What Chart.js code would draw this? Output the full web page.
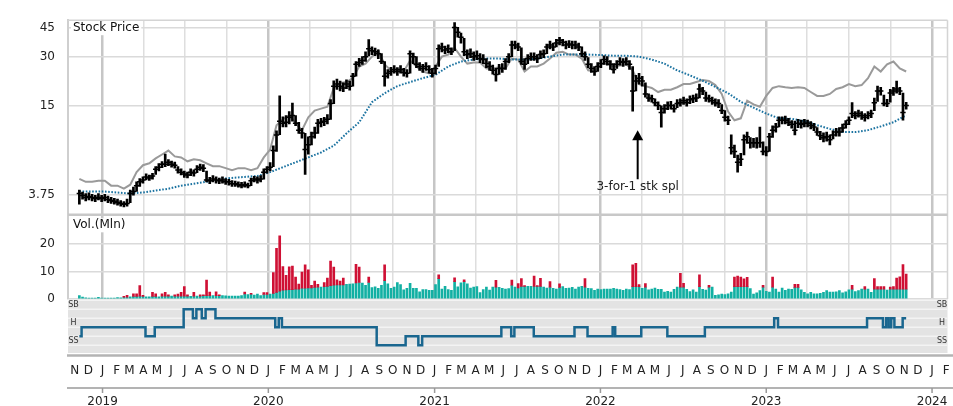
<!DOCTYPE html>
<html>
<head>
<meta charset="utf-8">
<script src="https://cdn.jsdelivr.net/npm/chart.js@4.4.0/dist/chart.umd.min.js"></script>
<style>
  html, body { margin: 0; padding: 0; background: #fff; }
  canvas { display: block; }
</style>
</head>
<body>
<canvas id="stockChart" width="953" height="406"></canvas>
<script>
// weekly bars, the first one is the week of 2018-11-11
const firstWeek = Date.UTC(2018, 10, 11);

const priceHigh = [
  4.1, 3.95, 3.85, 3.9, 3.8, 3.75, 3.85, 3.75, 3.8, 3.7,
  3.62, 3.55, 3.5, 3.42, 3.35, 3.5, 4.1, 4.3, 4.7, 4.95,
  5.1, 5.35, 5.25, 5.4, 6.0, 6.3, 6.5, 7.3, 6.7, 6.55,
  6.45, 6.0, 5.8, 5.6, 5.5, 5.8, 5.7, 6.1, 6.25, 6.2,
  5.6, 5.05, 5.2, 5.1, 5.0, 5.1, 4.95, 4.9, 4.8, 4.75,
  4.7, 4.65, 4.7, 4.6, 5.0, 5.15, 5.1, 5.2, 5.8, 6.0,
  6.4, 8.3, 10.4, 17.3, 12.8, 13.0, 13.8, 15.6, 13.0, 11.8,
  10.8, 10.0, 9.5, 10.2, 11.0, 12.3, 12.5, 12.7, 13.2, 16.4,
  21.5, 22.0, 21.4, 20.9, 21.8, 21.4, 23.9, 28.2, 29.5, 30.2,
  32.3, 38.3, 34.6, 34.0, 33.2, 31.5, 28.2, 25.2, 26.0, 26.6,
  25.9, 26.6, 25.6, 25.2, 32.8, 31.8, 30.2, 27.8, 27.1, 27.8,
  26.6, 25.6, 26.8, 35.6, 36.5, 35.0, 35.6, 34.2, 48.6, 45.4,
  42.0, 39.0, 33.2, 33.7, 32.3, 32.8, 31.5, 31.1, 29.4, 28.2,
  26.8, 25.6, 27.1, 27.4, 29.4, 31.5, 37.5, 37.5, 36.5, 34.2,
  29.4, 31.1, 31.9, 31.9, 31.1, 32.8, 33.2, 36.0, 37.5, 36.5,
  38.5, 39.6, 38.5, 37.5, 37.8, 37.5, 37.5, 36.5, 34.6, 32.3,
  29.8, 27.4, 26.3, 27.8, 29.0, 30.6, 30.2, 28.6, 27.4, 28.6,
  29.8, 29.4, 29.8, 28.6, 26.3, 23.2, 23.9, 22.9, 20.9, 17.8,
  17.5, 16.6, 15.9, 15.0, 15.3, 15.9, 16.0, 15.3, 16.4, 16.6,
  17.0, 16.6, 17.3, 17.5, 17.8, 20.5, 19.6, 18.3, 17.5, 17.0,
  16.6, 16.4, 15.3, 14.0, 12.9, 9.8, 8.4, 7.2, 7.4, 9.8,
  10.2, 9.4, 9.3, 9.4, 11.0, 8.8, 8.2, 10.0, 11.2, 11.6,
  12.8, 12.8, 12.9, 12.5, 12.1, 12.0, 12.3, 12.2, 12.3, 12.2,
  11.9, 11.6, 10.9, 10.3, 10.1, 10.2, 9.8, 10.4, 10.8, 10.9,
  11.5, 12.1, 12.8, 15.7, 13.8, 14.1, 13.8, 13.4, 13.8, 14.1,
  16.8, 19.9, 19.6, 17.5, 16.5, 19.0, 19.6, 21.4, 19.6, 18.0,
  15.8
];

const priceLow = [
  3.2, 3.5, 3.4, 3.45, 3.4, 3.35, 3.45, 3.35, 3.4, 3.3,
  3.25, 3.2, 3.15, 3.1, 3.05, 3.1, 3.3, 3.75, 4.0, 4.35,
  4.6, 4.85, 4.8, 4.9, 5.3, 5.6, 5.9, 6.0, 6.1, 5.95,
  5.85, 5.4, 5.25, 5.05, 5.0, 5.2, 5.15, 5.45, 5.65, 5.55,
  4.7, 4.55, 4.7, 4.6, 4.55, 4.6, 4.5, 4.45, 4.35, 4.35,
  4.3, 4.25, 4.3, 4.25, 4.4, 4.7, 4.6, 4.7, 4.9, 5.4,
  5.6, 6.0, 7.6, 9.8, 11.0, 11.0, 11.5, 12.0, 11.2, 10.0,
  9.3, 5.3, 7.3, 8.4, 9.3, 10.0, 11.0, 11.2, 11.5, 12.3,
  15.5, 19.0, 18.6, 18.4, 19.2, 18.8, 19.9, 22.9, 26.3, 27.1,
  28.2, 30.5, 31.1, 30.6, 29.4, 27.4, 19.9, 22.3, 23.2, 23.9,
  23.2, 23.9, 22.9, 22.6, 23.9, 27.4, 25.9, 24.9, 24.2, 24.9,
  23.9, 22.6, 23.6, 26.3, 32.3, 31.5, 31.9, 31.1, 32.8, 39.6,
  36.5, 30.6, 29.4, 29.8, 28.6, 29.0, 27.8, 27.4, 25.9, 24.9,
  23.6, 21.4, 23.5, 24.2, 25.2, 27.8, 30.2, 33.7, 32.8, 27.1,
  25.2, 27.4, 28.6, 28.6, 27.8, 29.4, 29.8, 31.5, 33.7, 32.8,
  34.6, 35.6, 35.1, 33.7, 34.2, 33.7, 33.7, 32.8, 30.2, 28.6,
  25.9, 24.2, 23.2, 24.5, 25.9, 27.1, 26.8, 25.2, 23.9, 25.6,
  26.8, 26.3, 26.8, 25.2, 13.9, 18.6, 20.5, 19.9, 17.0, 16.0,
  15.8, 15.0, 14.2, 10.98, 13.5, 14.2, 14.3, 13.7, 14.6, 14.9,
  15.3, 14.9, 15.5, 15.7, 15.9, 16.8, 17.6, 16.0, 15.8, 15.3,
  14.9, 14.6, 13.4, 12.0, 11.4, 7.3, 6.9, 5.5, 6.1, 7.2,
  8.6, 8.0, 8.1, 8.0, 8.1, 7.2, 7.1, 7.6, 9.4, 10.2,
  11.0, 11.5, 11.5, 11.2, 10.8, 9.78, 10.9, 10.8, 11.0, 11.0,
  10.7, 10.4, 9.7, 9.1, 8.8, 8.9, 8.4, 9.2, 9.6, 9.6,
  10.2, 10.8, 11.4, 12.6, 12.4, 12.7, 12.3, 12.0, 12.4, 12.6,
  14.0, 16.0, 17.5, 15.0, 14.8, 15.8, 17.4, 18.0, 17.6, 12.15,
  14.3
];

const priceClose = [
  3.86, 3.73, 3.60, 3.67, 3.60, 3.54, 3.60, 3.54, 3.60, 3.48,
  3.42, 3.37, 3.31, 3.25, 3.20, 3.25, 3.86, 3.99, 4.41, 4.70,
  4.85, 5.09, 5.01, 5.17, 5.77, 5.95, 6.23, 6.23, 6.43, 6.23,
  6.14, 5.68, 5.50, 5.33, 5.25, 5.50, 5.42, 5.77, 5.95, 5.86,
  4.85, 4.78, 4.93, 4.85, 4.78, 4.85, 4.70, 4.70, 4.55, 4.55,
  4.48, 4.41, 4.48, 4.41, 4.78, 4.93, 4.85, 4.93, 5.50, 5.77,
  5.95, 7.71, 9.78, 11.98, 11.64, 11.81, 12.69, 13.05, 11.64, 10.5,
  10.07, 7.83, 8.43, 9.50, 10.07, 11.64, 11.81, 11.98, 12.33, 15.49,
  19.9, 20.5, 19.9, 19.4, 20.5, 19.9, 22.9, 27.1, 27.8, 28.6,
  30.2, 33.7, 32.8, 32.3, 31.5, 28.2, 22.9, 23.9, 24.5, 25.2,
  24.5, 25.2, 24.2, 23.9, 31.5, 30.2, 27.1, 26.3, 25.6, 26.3,
  25.2, 23.9, 25.6, 33.7, 34.6, 33.2, 33.7, 32.3, 45.4, 42.4,
  39.6, 32.3, 31.1, 31.5, 30.2, 30.6, 29.4, 29.0, 27.4, 26.3,
  24.9, 23.5, 25.6, 25.6, 28.2, 30.2, 35.6, 35.6, 34.6, 28.2,
  27.1, 29.4, 30.2, 30.2, 29.4, 31.1, 31.5, 34.6, 35.6, 34.6,
  36.5, 38.0, 37.0, 35.6, 36.0, 35.6, 35.6, 34.6, 31.5, 30.2,
  27.1, 25.6, 24.5, 26.3, 27.4, 29.0, 28.2, 27.1, 25.2, 27.1,
  28.2, 27.8, 28.2, 27.1, 18.6, 21.4, 22.3, 21.4, 17.8, 16.8,
  16.6, 15.7, 15.05, 13.6, 14.4, 15.05, 15.05, 14.4, 15.5, 15.7,
  16.15, 15.7, 16.4, 16.6, 16.8, 19.1, 18.6, 16.8, 16.6, 16.15,
  15.7, 15.5, 14.0, 12.7, 12.15, 8.06, 7.6, 6.43, 6.73, 9.08,
  9.5, 8.69, 8.69, 8.69, 8.69, 7.6, 7.6, 9.5, 10.5, 10.98,
  12.15, 12.15, 12.15, 11.81, 11.47, 10.5, 11.64, 11.47, 11.64, 11.64,
  11.3, 10.98, 10.2, 9.64, 9.36, 9.5, 9.08, 9.78, 10.2, 10.2,
  10.82, 11.47, 12.15, 13.4, 13.05, 13.4, 13.05, 12.69, 13.05, 13.4,
  15.7, 18.6, 18.6, 15.5, 15.5, 18.05, 18.6, 19.1, 18.6, 13.6,
  15.05
];

// grey comparison line, one value every 2 weeks
const relStrength = [
  4.93, 4.70, 4.70, 4.78, 4.78, 4.41, 4.41, 4.19, 4.48, 5.50,
  6.14, 6.33, 6.83, 7.26, 7.71, 7.05, 6.94, 6.53, 6.73, 6.63,
  6.33, 6.05, 6.05, 5.86, 5.68, 5.86, 5.86, 5.68, 5.86, 6.94,
  7.83, 11.3, 12.33, 13.05, 11.64, 10.5, 12.69, 14.0, 14.4, 14.8,
  19.4, 20.8, 21.1, 22.3, 26.3, 27.4, 30.2, 32.8, 27.1, 24.9,
  25.2, 24.5, 28.6, 26.3, 24.5, 23.9, 26.3, 30.2, 31.1, 34.1,
  30.2, 27.4, 27.8, 27.8, 25.6, 25.6, 26.0, 25.6, 29.4, 29.0,
  24.5, 26.3, 26.3, 27.4, 29.4, 31.9, 32.3, 31.1, 31.1, 29.4,
  24.9, 24.5, 27.1, 27.4, 26.3, 26.7, 27.1, 24.9, 20.5, 19.9,
  19.4, 18.3, 18.9, 18.9, 19.6, 20.5, 20.5, 21.1, 21.7, 21.4,
  20.2, 17.8, 13.8, 12.15, 12.5, 16.15, 15.3, 14.8, 17.3, 19.4,
  19.9, 19.6, 19.4, 19.6, 19.4, 18.3, 17.3, 17.3, 17.8, 19.1,
  19.6, 20.5, 19.9, 20.2, 22.3, 26.3, 24.5, 27.1, 28.2, 25.6,
  24.5
];

// dotted moving average, one value every 4 weeks
const movingAvg = [
  3.99, 3.99, 3.99, 3.93, 3.86, 3.93, 4.06, 4.19, 4.41, 4.55,
  4.70, 4.93, 5.01, 5.09, 5.17, 5.50, 5.95, 6.43, 6.94, 7.49,
  8.3, 10.0, 11.8, 15.8, 18.0, 19.9, 21.1, 22.3, 23.4, 26.3,
  28.2, 29.0, 29.4, 29.4, 29.0, 29.0, 29.4, 30.2, 31.1, 31.1,
  31.1, 30.9, 30.6, 30.6, 30.2, 29.0, 27.4, 24.9, 23.2, 21.5,
  19.7, 18.0, 15.9, 14.6, 13.4, 12.5, 12.4, 12.0, 11.3, 10.7,
  10.2, 10.2, 10.5, 11.1, 11.8, 13.05
];

// weekly volume in millions: teal part and full height
const volBase = [
  1.2, 0.7, 0.4, 0.3, 0.3, 0.3, 0.6, 0.3, 0.3, 0.3,
  0.3, 0.3, 0.5, 0.4, 0.6, 0.6, 0.8, 0.9, 0.9, 1.0,
  0.9, 0.8, 0.8, 0.9, 0.9, 0.8, 1.0, 1.0, 1.0, 1.0,
  1.0, 1.0, 1.0, 1.0, 1.0, 0.9, 1.0, 1.0, 1.0, 1.2,
  1.2, 1.2, 1.2, 1.2, 1.2, 1.2, 1.1, 1.0, 1.0, 1.0,
  1.0, 1.2, 1.8, 1.6, 1.7, 1.4, 1.8, 1.2, 1.6, 1.6,
  1.8, 2.0, 2.4, 2.8, 3.2, 3.3, 3.4, 3.4, 3.6, 3.6,
  3.9, 3.9, 4.0, 4.0, 4.2, 4.3, 4.3, 4.5, 4.6, 4.8,
  5.0, 5.1, 5.1, 5.1, 5.3, 5.4, 5.5, 5.8, 6.0, 5.8,
  5.0, 6.0, 4.1, 4.4, 3.9, 5.0, 6.7, 5.5, 3.9, 4.3,
  6.0, 5.2, 3.3, 3.9, 5.7, 3.9, 3.9, 2.6, 3.4, 3.4,
  3.1, 3.1, 5.2, 7.4, 3.6, 4.6, 3.4, 3.1, 6.3, 4.4,
  5.9, 6.3, 5.5, 4.0, 4.3, 4.5, 2.3, 3.4, 4.3, 3.2,
  4.3, 4.3, 4.2, 3.9, 3.6, 3.8, 5.0, 4.3, 4.0, 4.6,
  4.6, 4.6, 4.6, 4.6, 4.6, 4.6, 4.3, 4.0, 4.3, 3.9,
  3.6, 4.2, 4.5, 3.9, 4.0, 4.2, 3.6, 4.3, 4.6, 4.3,
  3.9, 3.8, 3.1, 3.6, 3.4, 3.6, 3.6, 3.6, 3.9, 3.6,
  3.4, 3.1, 3.6, 3.4, 4.5, 4.5, 4.5, 3.9, 4.3, 3.3,
  3.6, 4.0, 3.5, 3.5, 2.5, 2.8, 2.5, 3.5, 4.3, 4.3,
  4.3, 3.5, 2.7, 3.3, 2.5, 4.5, 3.5, 3.2, 4.3, 4.3,
  1.3, 1.5, 1.8, 1.6, 1.9, 2.5, 4.5, 4.5, 4.5, 4.5,
  4.5, 3.8, 1.8, 2.2, 3.0, 4.3, 2.8, 2.5, 4.3, 3.6,
  2.5, 4.0, 3.1, 3.6, 3.5, 4.2, 4.2, 3.3, 2.4, 1.9,
  2.4, 1.9, 1.9, 2.0, 2.4, 3.0, 2.5, 2.5, 2.6, 3.0,
  2.2, 2.6, 3.3, 3.6, 2.7, 3.0, 3.6, 3.6, 3.6, 2.4,
  3.6, 3.6, 3.6, 3.6, 3.2, 3.6, 3.6, 3.6, 3.6, 3.6,
  3.6
];

const volTotal = [
  1.2, 0.7, 0.4, 0.3, 0.3, 0.3, 0.6, 0.3, 0.3, 0.3,
  0.3, 0.3, 0.5, 0.4, 0.9, 1.3, 0.8, 1.9, 1.9, 4.9,
  1.3, 0.8, 0.8, 2.4, 1.9, 0.8, 1.9, 2.4, 1.5, 1.0,
  1.5, 1.8, 2.4, 4.5, 1.5, 0.9, 2.4, 1.0, 1.5, 1.5,
  6.9, 2.5, 1.2, 2.6, 1.5, 1.2, 1.1, 1.0, 1.0, 1.0,
  1.0, 1.2, 2.5, 1.6, 2.0, 1.4, 1.8, 1.2, 2.3, 2.3,
  1.8, 9.6, 18.5, 23.0, 11.8, 8.6, 11.7, 12.0, 8.0, 5.4,
  9.8, 12.4, 10.6, 5.0, 6.5, 5.3, 4.3, 6.0, 7.6, 13.8,
  11.6, 7.0, 6.5, 7.6, 5.3, 5.4, 5.5, 12.6, 11.6, 5.8,
  5.0, 8.0, 4.1, 4.4, 3.9, 5.0, 12.4, 5.5, 3.9, 4.3,
  6.0, 5.2, 3.3, 3.9, 5.7, 3.9, 3.9, 2.6, 3.4, 3.4,
  3.1, 3.1, 5.2, 8.8, 3.6, 4.6, 3.4, 3.1, 7.7, 4.4,
  5.9, 7.0, 5.5, 4.0, 4.3, 4.5, 2.3, 3.4, 4.3, 3.2,
  4.3, 6.8, 4.2, 3.9, 3.6, 3.8, 6.9, 4.3, 5.6, 7.4,
  4.9, 4.6, 4.6, 8.3, 4.9, 7.5, 4.3, 4.0, 6.3, 3.9,
  3.6, 5.5, 4.5, 3.9, 4.0, 4.2, 3.6, 4.3, 4.6, 7.4,
  3.9, 3.8, 3.1, 3.6, 3.4, 3.6, 3.6, 3.6, 3.9, 3.6,
  3.4, 3.1, 3.6, 3.4, 12.4, 13.0, 5.2, 3.9, 5.6, 3.3,
  3.6, 4.0, 3.5, 3.5, 2.5, 2.8, 2.5, 3.5, 4.3, 9.3,
  5.7, 3.5, 2.7, 3.3, 2.5, 8.8, 3.5, 3.2, 5.0, 4.3,
  1.3, 1.5, 1.8, 1.6, 1.9, 2.5, 8.0, 8.3, 8.0, 7.3,
  7.9, 3.8, 1.8, 2.2, 3.0, 5.0, 2.8, 2.5, 8.0, 3.6,
  2.5, 4.0, 3.1, 3.6, 3.5, 5.3, 5.3, 3.3, 2.4, 1.9,
  2.4, 1.9, 1.9, 2.0, 2.4, 3.0, 2.5, 2.5, 2.6, 3.0,
  2.2, 2.6, 3.3, 5.0, 2.7, 3.0, 3.6, 4.5, 3.6, 2.4,
  7.4, 4.5, 4.5, 4.5, 3.2, 4.3, 4.5, 7.6, 8.1, 12.5,
  9.1
];

// rating changes: week number where a level starts (1 = SS ... 5 = SB)
const ratingWeek = [0, 0.7, 20.8, 23.7, 32.8, 35.7, 36.8, 38.5, 39.7, 42.8,
  61.6, 62.7, 63.7, 93.5, 102.6, 106.6, 107.8, 132.7, 135.8, 136.8,
  142.9, 155.7, 159.8, 167.7, 168.5, 176.7, 184.9, 196.7, 218.5, 219.7,
  247.7, 252.7, 253.7, 254.5, 255.3, 256.3, 258.9, 260];
const ratingLevel = [2, 3, 2, 3, 5, 4, 5, 4, 5, 4,
  3, 4, 3, 1, 2, 1, 2, 3, 2, 3,
  2, 3, 2, 3, 2, 3, 2, 3, 4, 3,
  4, 3, 4, 3, 4, 3, 4, 4];
const ratingLabels = ['SS', 'H', 'SB'];
const ratingLabelLevels = [1, 3, 5];

const priceTicks = [3.75, 15, 30, 45];
const volTicks = [0, 10, 20];
const monthLetters = ['J', 'F', 'M', 'A', 'M', 'J', 'J', 'A', 'S', 'O', 'N', 'D'];
const years = [2019, 2020, 2021, 2022, 2023, 2024];

const splitNote = { date: Date.UTC(2022, 2, 24), text: '3-for-1 stk spl', tip: 10.5, tail: 4.9 };

// helpers
const DAY = 864e5;
const origin = Date.UTC(2019, 0, 1);
const dayOf = (y, m, d = 1) => (Date.UTC(y, m, d) - origin) / DAY;
const weekDay = w => (firstWeek - origin) / DAY + 7 * w;
const toAxis = v => Math.log(v + 1);   // price axis is log(price + 1)

const xMin = dayOf(2018, 9, 17);
const xMax = dayOf(2024, 1, 4);
const yearStarts = years.map(y => dayOf(y, 0));
const quarterStarts = [];
years.forEach(y => [0, 3, 6, 9].forEach(m => {
  const d = dayOf(y, m);
  if (d >= xMin && d <= xMax) quarterStarts.push(d);
}));

const FONT = '"DejaVu Sans", sans-serif';
Chart.defaults.font.family = FONT;
Chart.defaults.font.size = 12;
Chart.defaults.color = '#222';

const panelPlugin = {
  id: 'panels',
  beforeDatasetsDraw(chart) {
    const { ctx, chartArea: a, scales } = chart;
    const ps = scales.yPrice, vs = scales.yVol, rs = scales.yRating;
    ctx.save();
    // rating band
    ctx.fillStyle = '#e3e3e3';
    ctx.fillRect(a.left, rs.top, a.right - a.left, rs.bottom - rs.top);
    ctx.strokeStyle = '#f3f3f3';
    ctx.lineWidth = 1.5;
    for (let lv = 1; lv <= 6; lv++) {
      const y = rs.getPixelForValue(lv);
      ctx.beginPath(); ctx.moveTo(a.left, y); ctx.lineTo(a.right, y); ctx.stroke();
    }
    ctx.font = '8px ' + FONT;
    ctx.fillStyle = '#333';
    ctx.textAlign = 'center';
    ctx.textBaseline = 'middle';
    ratingLabels.forEach((t, k) => {
      const y = rs.getPixelForValue(ratingLabelLevels[k] + 0.48);
      ctx.fillText(t, a.left + 5.5, y);
      ctx.fillText(t, a.right - 5.5, y);
    });
    // borders and separator
    ctx.strokeStyle = '#d4d4d4';
    ctx.lineWidth = 1.5;
    ctx.beginPath(); ctx.moveTo(a.left, a.top); ctx.lineTo(a.right, a.top); ctx.stroke();
    ctx.beginPath(); ctx.moveTo(a.right, a.top); ctx.lineTo(a.right, vs.bottom); ctx.stroke();
    ctx.strokeStyle = '#c8c8c8';
    ctx.lineWidth = 2.5;
    ctx.beginPath(); ctx.moveTo(a.left, ps.bottom); ctx.lineTo(a.right, ps.bottom); ctx.stroke();
    // panel titles
    ctx.font = '12px ' + FONT;
    ctx.textAlign = 'left';
    [['Stock Price', ps.top + 8], ['Vol.(Mln)', vs.top + 10.5]].forEach(([t, y]) => {
      const w = ctx.measureText(t).width;
      ctx.fillStyle = '#fff';
      ctx.fillRect(a.left + 3, y - 7, w + 4, 14);
      ctx.fillStyle = '#111';
      ctx.fillText(t, a.left + 5, y);
    });
    ctx.restore();
  },
  afterDatasetsDraw(chart) {
    const { ctx, scales } = chart;
    const x = scales.x.getPixelForValue((splitNote.date - origin) / DAY);
    const yTip = scales.yPrice.getPixelForValue(toAxis(splitNote.tip));
    const yTail = scales.yPrice.getPixelForValue(toAxis(splitNote.tail));
    ctx.save();
    ctx.strokeStyle = '#000';
    ctx.fillStyle = '#000';
    ctx.lineWidth = 2;
    ctx.beginPath(); ctx.moveTo(x, yTail); ctx.lineTo(x, yTip + 8); ctx.stroke();
    ctx.beginPath();
    ctx.moveTo(x, yTip); ctx.lineTo(x - 5.5, yTip + 10); ctx.lineTo(x + 5.5, yTip + 10);
    ctx.closePath(); ctx.fill();
    ctx.font = '12px ' + FONT;
    ctx.fillStyle = '#222';
    ctx.textAlign = 'center';
    ctx.textBaseline = 'middle';
    ctx.fillText(splitNote.text, x, yTail + 8);
    ctx.restore();
  },
  afterDraw(chart) {
    const { ctx, chartArea: a, scales } = chart;
    const xs = scales.x;
    const W = chart.width;
    ctx.save();
    ctx.strokeStyle = '#b3b3b3';
    ctx.lineWidth = 2.5;
    ctx.beginPath(); ctx.moveTo(a.left - 1, a.bottom + 2.5); ctx.lineTo(W, a.bottom + 2.5); ctx.stroke();
    ctx.lineWidth = 2;
    ctx.beginPath(); ctx.moveTo(a.left - 1, a.bottom + 35); ctx.lineTo(W, a.bottom + 35); ctx.stroke();
    ctx.font = '12px ' + FONT;
    ctx.fillStyle = '#222';
    ctx.textAlign = 'center';
    ctx.textBaseline = 'middle';
    [2018].concat(years).forEach(y => {
      for (let m = 0; m < 12; m++) {
        const d = dayOf(y, m);
        if (d < xMin || d > xMax) continue;
        ctx.fillText(monthLetters[m], xs.getPixelForValue(d), a.bottom + 18);
      }
    });
    ctx.strokeStyle = '#999';
    ctx.lineWidth = 1.5;
    years.forEach((y, k) => {
      const px = xs.getPixelForValue(yearStarts[k]);
      ctx.beginPath(); ctx.moveTo(px, a.bottom + 35); ctx.lineTo(px, a.bottom + 40); ctx.stroke();
      ctx.fillText(String(y), px, a.bottom + 49);
    });
    ctx.restore();
  }
};

function renderStockChart() {
  const ctx = document.getElementById('stockChart').getContext('2d');

  const closeData = priceClose.map((c, i) => ({ x: weekDay(i), y: toAxis(c) }));
  const rangeData = priceClose.map((c, i) => ({ x: weekDay(i), y: [toAxis(priceLow[i]), toAxis(priceHigh[i])] }));
  const rsData = relStrength.map((v, k) => ({ x: weekDay(k * 2), y: toAxis(v) }));
  const maData = movingAvg.map((v, k) => ({ x: weekDay(k * 4), y: toAxis(v) }));
  const tealData = volBase.map((v, i) => ({ x: weekDay(i), y: v }));
  const redData = volTotal.map((v, i) => (v > volBase[i] ? { x: weekDay(i), y: [volBase[i], v] } : null))
    .filter(Boolean);
  const ratingData = ratingWeek.map((w, k) => ({ x: weekDay(w), y: ratingLevel[k] }));

  new Chart(ctx, {
    type: 'line',
    data: {
      datasets: [
        {
          label: 'Close', data: closeData, yAxisID: 'yPrice', showLine: false,
          pointStyle: 'line', pointRadius: 2.7, pointBorderWidth: 1.5,
          pointBorderColor: '#000', pointBackgroundColor: '#000'
        },
        {
          type: 'bar', label: 'Range', data: rangeData, yAxisID: 'yPrice',
          backgroundColor: '#000', barThickness: 2, grouped: false
        },
        {
          label: 'Moving average', data: maData, yAxisID: 'yPrice',
          borderColor: '#1a72a0', borderWidth: 2, borderDash: [1.6, 1.6],
          pointRadius: 0, tension: 0
        },
        {
          label: 'Relative', data: rsData, yAxisID: 'yPrice',
          borderColor: '#9a9a9a', borderWidth: 2, pointRadius: 0, tension: 0
        },
        {
          type: 'bar', label: 'Volume high', data: redData, yAxisID: 'yVol',
          backgroundColor: '#cf1034', barThickness: 2, grouped: false
        },
        {
          type: 'bar', label: 'Volume', data: tealData, yAxisID: 'yVol',
          backgroundColor: '#12b0a3', barThickness: 2, grouped: false
        },
        {
          label: 'Rating', data: ratingData, yAxisID: 'yRating', stepped: 'before',
          borderColor: '#19668f', borderWidth: 2.5, pointRadius: 0
        }
      ]
    },
    options: {
      responsive: false,
      animation: false,
      events: [],
      devicePixelRatio: 1,
      layout: { padding: { top: 13, bottom: 53, left: 0, right: 3 } },
      plugins: { legend: { display: false }, tooltip: { enabled: false } },
      scales: {
        x: {
          type: 'linear', min: xMin, max: xMax, offset: false,
          afterBuildTicks: s => { s.ticks = quarterStarts.map(v => ({ value: v })); },
          ticks: { display: false },
          grid: {
            drawTicks: false, offset: false,
            color: c => (yearStarts.includes(c.tick.value) ? '#c6c6c6' : '#dedede'),
            lineWidth: c => (yearStarts.includes(c.tick.value) ? 2.5 : 1.5)
          },
          border: { display: false }
        },
        yPrice: {
          type: 'linear', position: 'left', stack: 'panels', stackWeight: 199, weight: 3,
          min: toAxis(2.64), max: toAxis(50.2),
          afterBuildTicks: s => { s.ticks = priceTicks.map(v => ({ value: toAxis(v) })); },
          afterFit: s => { s.width = 68; },
          ticks: { autoSkip: false, padding: 13, callback: (v, i) => String(priceTicks[i]) },
          grid: { drawTicks: false, color: '#dadada', lineWidth: 1.5 },
          border: { color: '#cfcfcf', width: 2 }
        },
        yVol: {
          type: 'linear', position: 'left', stack: 'panels', stackWeight: 86, weight: 2,
          min: 0, max: 30.7,
          afterBuildTicks: s => { s.ticks = volTicks.map(v => ({ value: v })); },
          afterFit: s => { s.width = 68; },
          ticks: { autoSkip: false, padding: 13 },
          grid: { drawTicks: false, color: '#dadada', lineWidth: 1.5 },
          border: { color: '#cfcfcf', width: 2 }
        },
        yRating: {
          type: 'linear', position: 'left', stack: 'panels', stackWeight: 55.3, weight: 1,
          min: 0.13, max: 6.16,
          afterFit: s => { s.width = 68; },
          ticks: { display: false },
          grid: { display: false },
          border: { display: false }
        }
      }
    },
    plugins: [panelPlugin]
  });
}

document.addEventListener('DOMContentLoaded', renderStockChart);
</script>
</body>
</html>
